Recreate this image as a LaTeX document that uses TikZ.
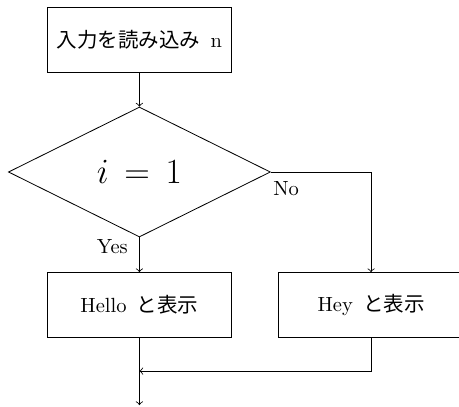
\documentclass[tikz,border=0pt]{standalone}
\usepackage{amsmath,amssymb}
\usepackage{fontspec}
\newfontfamily\jp{Noto Sans CJK JP}
\usetikzlibrary{shapes.geometric}

\begin{document}
\begin{tikzpicture}[x=1pt,y=1pt,
    procbox/.style={draw, rectangle, minimum width=90pt, minimum height=31.7pt, inner sep=0pt},
    decision/.style={draw, diamond, minimum width=127.8pt, minimum height=63.4pt, inner sep=0pt}]

        \useasboundingbox (0,-198.5) rectangle (223.9,0);

        % boxes
        \node[procbox] (input) at (68,-19.3) {{\jp 入力を読み込み}\hspace{5pt}n};
        \node[decision] (cond) at (68,-83.9) {\LARGE $i\,=\,1$};
        \node[procbox] (hello) at (68,-148.8) {Hello\hspace{5pt}{\jp と表示}};
        \node[procbox] (hey) at (181,-148.8) {Hey\hspace{5pt}{\jp と表示}};

        \coordinate (merge) at (68,-181);
        \coordinate (end) at (68,-197.6);

        % labels
        \node[anchor=north west, inner sep=1pt, yshift=-3.5pt] (nolabel) at (cond.east) {No};
        \node[anchor=north east, inner sep=1pt, xshift=-4.5pt] (yeslabel) at (cond.south) {Yes};

        % arrows
        \draw[->] (input) -- (cond);
        \draw[->] (cond) -- (hello);
        \draw[->] (cond.east) -| (hey.north);
        \draw[->] (hey.south) |- (merge);
        \draw[->] (hello) -- (end);

    \end{tikzpicture}
\end{document}
